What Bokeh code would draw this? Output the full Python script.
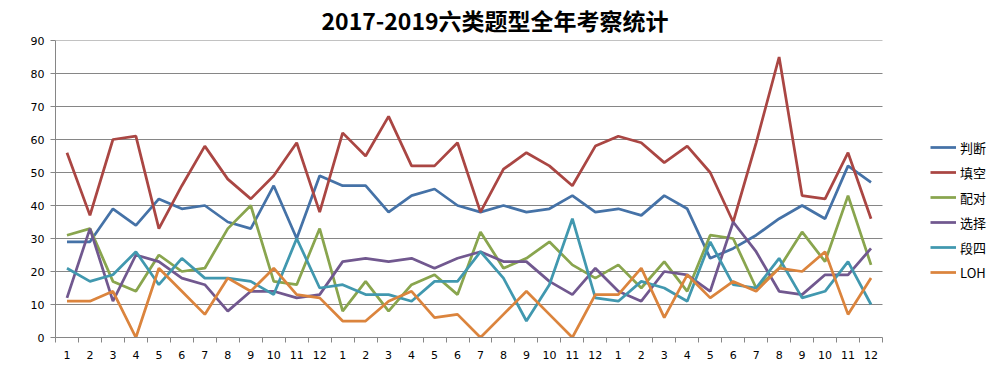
from bokeh.plotting import figure
from bokeh.models import FixedTicker, Legend, LegendItem, Range1d
from bokeh.embed import file_html
from bokeh.resources import INLINE

months = [str(m) for m in range(1, 13)] * 3

judge = [29, 29, 39, 34, 42, 39, 40, 35, 33, 46, 30, 49,
         46, 46, 38, 43, 45, 40, 38, 40, 38, 39, 43, 38,
         39, 37, 43, 39, 24, 27, 31, 36, 40, 36, 52, 47]
fill = [56, 37, 60, 61, 33, 46, 58, 48, 42, 49, 59, 38,
        62, 55, 67, 52, 52, 59, 38, 51, 56, 52, 46, 58,
        61, 59, 53, 58, 50, 35, 59, 85, 43, 42, 56, 36]
match = [31, 33, 17, 14, 25, 20, 21, 33, 40, 17, 16, 33,
         8, 17, 8, 16, 19, 13, 32, 21, 24, 29, 22, 18,
         22, 15, 23, 14, 31, 30, 15, 21, 32, 23, 43, 22]
choice = [12, 33, 11, 25, 23, 18, 16, 8, 14, 14, 12, 13,
          23, 24, 23, 24, 21, 24, 26, 23, 23, 17, 13, 21,
          14, 11, 20, 19, 14, 35, 26, 14, 13, 19, 19, 27]
para4 = [21, 17, 19, 26, 16, 24, 18, 18, 17, 13, 30, 15,
         16, 13, 13, 11, 17, 17, 26, 18, 5, 16, 36, 12,
         11, 17, 15, 11, 29, 16, 15, 24, 12, 14, 23, 10]
loh = [11, 11, 14, 0, 21, 14, 7, 18, 14, 21, 13, 12,
       5, 5, 11, 14, 6, 7, 0, 7, 14, 7, 0, 13,
       13, 21, 6, 19, 12, 17, 14, 21, 20, 26, 7, 18]

y_ticks = list(range(0, 91, 10))
series_names = ["判断", "填空", "配对", "选择", "段四", "LOH"]
series_values = [judge, fill, match, choice, para4, loh]
colors = ["#4572A7", "#AA4643", "#89A54E", "#71588F", "#4198AF", "#DB843D"]

xs = list(range(1, len(months) + 1))
x_lo, x_hi = 0.5, len(months) + 0.5

W, H = 998, 375
left, top, bottom = 55, 40, 38
plot_w = 827  # pixel width of the category area
frame_w = W - left
x_end = x_lo + (x_hi - x_lo) * frame_w / plot_w

p = figure(width=W, height=H, output_backend="svg", toolbar_location=None,
           x_range=Range1d(x_lo, x_end), y_range=Range1d(y_ticks[0], y_ticks[-1]),
           min_border_left=left, min_border_right=0, min_border_top=top,
           min_border_bottom=bottom)
p.outline_line_color = None
p.background_fill_color = "white"
p.border_fill_color = "white"

p.title.text = "2017-2019六类题型全年考察统计"
p.title.align = "left"
p.title.offset = 266
p.title.standoff = 4
p.title.vertical_align = "top"
p.title.text_font = "Noto Sans CJK SC"
p.title.text_font_size = "23px"
p.title.text_font_style = "bold"
p.title.text_color = "black"

# horizontal gridlines limited to category area
p.xgrid.grid_line_color = None
p.ygrid.grid_line_color = None
p.segment(x0=[x_lo] * (len(y_ticks) - 1), x1=[x_hi] * (len(y_ticks) - 1),
          y0=y_ticks[1:], y1=y_ticks[1:], line_color="#868686", line_width=1)

# axes
xa = p.xaxis[0]
xa.bounds = (x_lo, x_hi)
xa.ticker = FixedTicker(ticks=xs, minor_ticks=[i + 0.5 for i in range(0, len(months) + 1)])
xa.major_label_overrides = {x: m for x, m in zip(xs, months)}
xa.major_tick_out = 0
xa.major_tick_in = 0
xa.minor_tick_out = 5
xa.minor_tick_in = 0
xa.minor_tick_line_color = "#868686"
xa.axis_line_color = "#868686"
xa.major_label_text_font = "DejaVu Sans"
xa.major_label_text_font_size = "11px"
xa.major_label_text_color = "black"
xa.major_label_standoff = 8

ya = p.yaxis[0]
ya.ticker = FixedTicker(ticks=y_ticks)
ya.major_tick_out = 5
ya.major_tick_in = 0
ya.minor_tick_line_color = None
ya.major_tick_line_color = "#868686"
ya.axis_line_color = "#868686"
ya.major_label_text_font = "DejaVu Sans"
ya.major_label_text_font_size = "11px"
ya.major_label_text_color = "black"
ya.major_label_standoff = 6

items = []
for name, vals, c in zip(series_names, series_values, colors):
    r = p.line(xs, vals, line_color=c, line_width=2.75)
    items.append(LegendItem(label=name, renderers=[r]))

legend = Legend(items=items, location=(875, 55), padding=0, margin=0,
                spacing=5, glyph_width=26, glyph_height=20, label_height=20,
                label_standoff=4, border_line_color=None,
                background_fill_alpha=0,
                label_text_font="Noto Sans CJK SC", label_text_font_size="13px",
                label_text_color="black")
p.add_layout(legend, "center")

open("out.html", "w").write(file_html(p, INLINE))
